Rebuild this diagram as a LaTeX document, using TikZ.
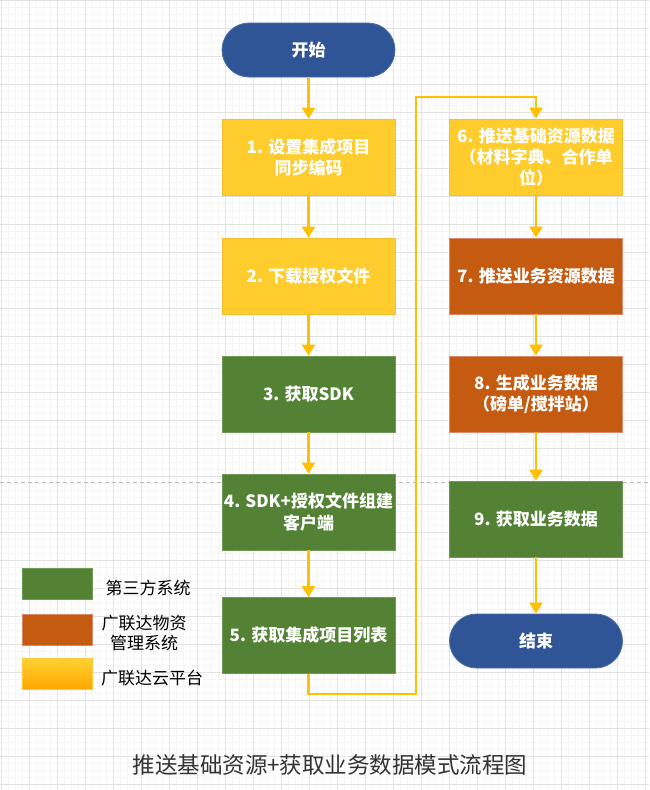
\documentclass[tikz,border=0pt]{standalone}
\usepackage{fontspec}
\newfontfamily\cjk{Noto Sans CJK SC}
\usetikzlibrary{arrows.meta}
\definecolor{ylw}{HTML}{FECC2C}
\definecolor{ylwedge}{HTML}{F0C030}
\definecolor{grn}{HTML}{548235}
\definecolor{grnedge}{HTML}{6F9A55}
\definecolor{org}{HTML}{C55A11}
\definecolor{orgedge}{HTML}{D98A6A}
\definecolor{blu}{HTML}{2F5597}
\definecolor{bluedge}{HTML}{4A6DAA}
\definecolor{arr}{HTML}{FFC000}
\definecolor{gmaj}{HTML}{E2E2E2}
\definecolor{gmin}{HTML}{F5F5F5}
\definecolor{ttl}{HTML}{333333}
\tikzset{
  boxbase/.style={rectangle, minimum width=173pt, minimum height=76pt, inner sep=0pt,
    align=center, text=white, line width=0.8pt,
    font=\cjk\bfseries\fontsize{17}{21}\selectfont},
  ybox/.style={boxbase, fill=ylw, draw=ylwedge},
  gbox/.style={boxbase, fill=grn, draw=grnedge},
  obox/.style={boxbase, fill=org, draw=orgedge},
  pill/.style={boxbase, minimum height=54pt, rounded corners=27pt, fill=blu, draw=bluedge},
  flow/.style={draw=arr, line width=2.6pt, -{Triangle[length=11pt,width=13pt]}},
  legsq/.style={rectangle, minimum width=70pt, minimum height=31pt, inner sep=0pt, line width=0.8pt},
  legtxt/.style={align=center, text=black, inner sep=0pt, font=\cjk\fontsize{17}{20}\selectfont},
}
\begin{document}
\begin{tikzpicture}[x=1pt,y=-1pt]
\useasboundingbox (0,0) rectangle (649,790);
\fill[white] (0,0) rectangle (649,790);
% grid
\foreach \i in {0,...,93} {\draw[gmin, line width=0.6pt] (\i*7+1,0) -- (\i*7+1,790);}
\foreach \i in {0,...,113} {\draw[gmin, line width=0.6pt] (0,\i*7+0.5) -- (649,\i*7+0.5);}
\foreach \i in {0,...,23} {\draw[gmaj, line width=0.9pt] (\i*28+1,0) -- (\i*28+1,790);}
\foreach \i in {0,...,28} {\draw[gmaj, line width=0.9pt] (0,\i*28+0.5) -- (649,\i*28+0.5);}
% dashed separator
\draw[color={rgb,255:red,190;green,190;blue,190}, line width=0.8pt, dash pattern=on 4pt off 3pt] (0,482) -- (649,482);

% nodes
\node[pill] (start) at (308.5,50) {开始};
\node[ybox] (b1) at (308.5,157) {1. 设置集成项目\\同步编码};
\node[ybox] (b2) at (308.5,276) {2. 下载授权文件};
\node[gbox] (b3) at (308.5,394) {3. 获取SDK};
\node[gbox] (b4) at (308.5,512) {4. SDK+授权文件组建\\客户端};
\node[gbox] (b5) at (308.5,635.5) {5. 获取集成项目列表};

\node[ybox] (b6) at (536,157) {6. 推送基础资源数据\\（材料字典、合作单\\位）};
\node[obox] (b7) at (536,276) {7. 推送业务资源数据};
\node[obox] (b8) at (536,394) {8. 生成业务数据\\（磅单/搅拌站）};
\node[gbox] (b9) at (536,519) {9. 获取业务数据};
\node[pill] (end) at (536,641) {结束};

% connectors
\draw[flow] (start) -- (b1);
\draw[flow] (b1) -- (b2);
\draw[flow] (b2) -- (b3);
\draw[flow] (b3) -- (b4);
\draw[flow] (b4) -- (b5);
\coordinate (c1) at (416,694);
\coordinate (c2) at (416,97);
\draw[flow] (b5.south) |- (c1) -- (c2) -| (b6.north);
\draw[flow] (b6) -- (b7);
\draw[flow] (b7) -- (b8);
\draw[flow] (b8) -- (b9);
\draw[flow] (b9) -- (end);

% legend
\node[legsq, fill=grn, draw=grnedge] (lg1) at (57,584) {};
\node[legsq, fill=org, draw=orgedge] (lg2) at (57,629.5) {};
\node[legsq, top color={rgb,255:red,255;green,210;blue,50}, bottom color={rgb,255:red,255;green,166;blue,0}, draw={rgb,255:red,255;green,200;blue,60}] (lg3) at (57,673.5) {};
\node[legtxt] (lt1) at (148,588) {第三方系统};
\node[legtxt] (lt2) at (144,633) {广联达物资\\管理系统};
\node[legtxt] (lt3) at (152,678) {广联达云平台};

% title
\node[text=ttl, inner sep=0pt, font=\cjk\fontsize{22.5}{26}\selectfont] (title) at (330,765) {推送基础资源+获取业务数据模式流程图};
\end{tikzpicture}
\end{document}
